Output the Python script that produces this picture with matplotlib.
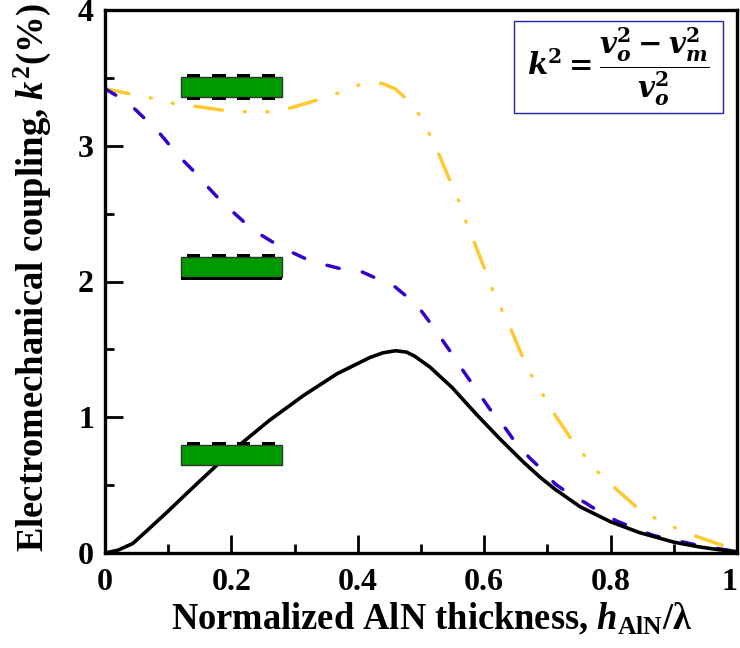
import matplotlib
matplotlib.use('Agg')
import matplotlib.pyplot as plt
from matplotlib.patches import Rectangle

plt.rcParams['font.family'] = ['Liberation Serif', 'DejaVu Serif']
plt.rcParams['font.weight'] = 'bold'
plt.rcParams['mathtext.fontset'] = 'custom'
plt.rcParams['mathtext.rm'] = 'Liberation Serif:bold'
plt.rcParams['mathtext.it'] = 'Liberation Serif:italic:bold'
plt.rcParams['mathtext.bf'] = 'Liberation Serif:bold'

# curves
x_black = [0, .02, .044, .07, .098, .125, .15, .18, .214, .24, .261, .314, .367, .419, .44, .46, .477, .49, .514, .549, .588, .625, .662, .688, .712, .752, .8, .846, .9, .94, .97, 1]
k_black = [0, .02, .07, .18, .30, .42, .53, .66, .80, .90, .98, 1.16, 1.32, 1.44, 1.475, 1.49, 1.48, 1.45, 1.37, 1.22, 1.02, .84, .67, .56, .47, .34, .23, .15, .08, .045, .025, .01]
x_blue = [0, .018, .045, .063, .085, .103, .124, .141, .162, .18, .203, .222, .248, .269, .298, .321, .351, .376, .407, .431, .459, .48, .501, .517, .535, .55, .567, .582, .6, .615, .635, .65, .672, .688, .712, .733, .76, .78, .81, .834, .867, .886, .94, 1]
k_blue = [3.42, 3.37, 3.28, 3.2, 3.1, 3.0, 2.89, 2.81, 2.7, 2.61, 2.51, 2.43, 2.34, 2.28, 2.21, 2.16, 2.12, 2.09, 2.07, 2.02, 1.96, 1.88, 1.78, 1.68, 1.56, 1.46, 1.34, 1.24, 1.12, 1.02, .91, .81, .7, .63, .51, .44, .37, .31, .235, .19, .13, .11, .055, .01]
x_yellow = [0, .042, .075, .11, .143, .19, .224, .26, .295, .338, .37, .403, .438, .459, .476, .497, .514, .529, .546, .56, .572, .585, .601, .614, .629, .643, .662, .677, .695, .713, .739, .76, .783, .809, .843, .873, .905, .937, .981, 1]
k_yellow = [3.42, 3.38, 3.35, 3.31, 3.29, 3.26, 3.25, 3.25, 3.28, 3.34, 3.39, 3.45, 3.46, 3.42, 3.35, 3.23, 3.08, 2.93, 2.74, 2.59, 2.43, 2.28, 2.09, 1.93, 1.78, 1.64, 1.43, 1.29, 1.15, 1.01, .83, .71, .58, .47, .33, .25, .18, .12, .05, .03]

x_ticks = [0, .2, .4, .6, .8, 1]
x_labels = ['0', '0.2', '0.4', '0.6', '0.8', '1']
y_ticks = [0, 1, 2, 3, 4]
y_labels = ['0', '1', '2', '3', '4']

fig = plt.figure(figsize=(7.4, 6.48), dpi=100)
ax = fig.add_axes([105 / 740, 95 / 648, 632 / 740, 543 / 648])

ax.plot(x_yellow, k_yellow, color='#FFC82E', lw=2.5, dash_capstyle='round', dash_joinstyle='round',
        linestyle=(1, (8, 6.3, .3, 6.2, .3, 6.3)))
ax.plot(x_blue, k_blue, color='#3300CC', lw=2.5, dash_capstyle='round', dash_joinstyle='round',
        linestyle=(0, (3.6, 6.76)))
ax.plot(x_black, k_black, color='black', lw=2.6)

ax.set_xlim(0, 1)
ax.set_ylim(0, 4)
ax.set_xticks(x_ticks, x_labels)
ax.set_yticks(y_ticks, y_labels)
ax.set_xticks([.1, .3, .5, .7, .9], minor=True)
ax.set_yticks([.5, 1.5, 2.5, 3.5], minor=True)
ax.tick_params(which='major', direction='in', length=13, width=2, labelsize=23)
ax.tick_params(which='minor', direction='in', length=6.5, width=2)
ax.tick_params(axis='x', which='major', pad=11)
ax.tick_params(axis='y', which='major', pad=8)
ax.get_xticklabels()[-1].set_ha('right')
for s in ax.spines.values():
    s.set_linewidth(2.4)

ax.set_xlabel(r'Normalized AlN thickness, $\mathit{h}_{\mathrm{AlN}}$/λ', fontsize=26.3, fontweight='bold')
ax.set_ylabel(r'Electromechanical coupling, $\mathit{k}^{2}$(%)', fontsize=26.4, fontweight='bold')
ax.xaxis.set_label_coords(.517, -.09)
ax.yaxis.set_label_coords(-.083, .508)


# small device sketches: green layer with electrodes
def device(y_bottom, bottom='none'):
    h = .147
    ax.add_patch(Rectangle((.12, y_bottom), .16, h, fc='#009900', ec='#333333', lw=1, zorder=4))
    for x in [.13, .17, .209, .248]:
        ax.add_patch(Rectangle((x, y_bottom + h), .021, .02, fc='black', ec='none', zorder=4))
        if bottom == 'fingers':
            ax.add_patch(Rectangle((x, y_bottom - .022), .021, .022, fc='black', ec='none', zorder=4))
    if bottom == 'plate':
        ax.add_patch(Rectangle((.12, y_bottom - .022), .16, .022, fc='black', ec='none', zorder=4))


device(3.36, 'fingers')
device(2.035, 'plate')
device(.648)

ax.add_patch(Rectangle((.647, 3.24), .331, .68, fc='white', ec='#2222AA', lw=1, zorder=5))
ax.text(.8125, 3.58, r'$\mathbfit{k}^{2}=\dfrac{\mathbfit{v}_{\mathbfit{o}}^{2}-\mathbfit{v}_{\mathbfit{m}}^{2}}{\mathbfit{v}_{\mathbfit{o}}^{2}}$',
        fontsize=21, ha='center', va='center', math_fontfamily='dejavuserif', zorder=6)

fig.savefig('out.png', dpi=100)
